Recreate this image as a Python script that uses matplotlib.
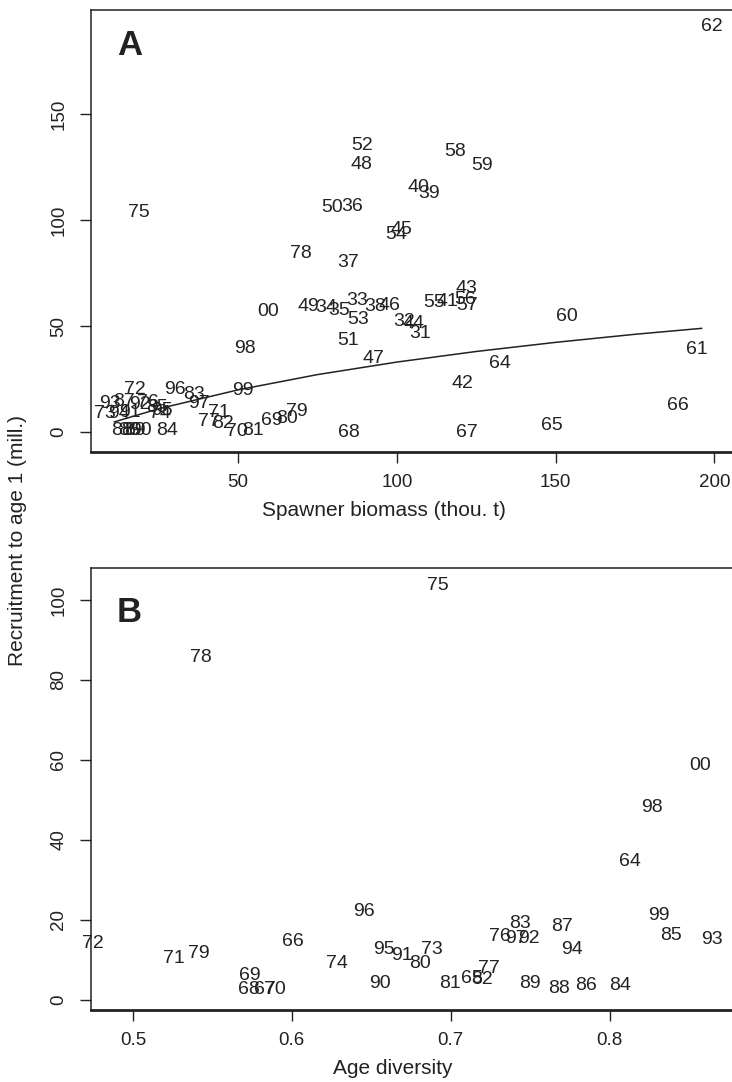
import matplotlib.pyplot as plt

plt.rcParams["font.family"] = ["Liberation Sans", "DejaVu Sans"]

W, H = 732, 1082

# --- Panel A: spawner biomass (thou. t) vs recruitment to age 1 (mill.) ---
a_years = ["62", "52", "48", "58", "59", "40", "39", "75", "50", "36",
           "45", "54", "78", "37", "43", "55", "41", "56", "57", "49",
           "34", "35", "33", "38", "46", "53", "00", "32", "44", "31",
           "51", "60", "98", "47", "64", "42", "61", "66", "65", "67",
           "68", "72", "96", "83", "97", "99", "71", "77", "82", "70",
           "81", "69", "80", "79", "93", "87", "76", "85", "95", "73",
           "94", "91", "92", "74", "88", "86", "89", "90", "84"]
a_biomass = [199.2, 88.9, 88.9, 118.3, 126.7, 106.7, 110.2, 18.8, 79.5, 85.8,
             101.5, 99.9, 69.7, 84.7, 121.8, 111.7, 115.8, 121.4, 122.1, 72.0,
             77.7, 81.8, 87.4, 93.1, 97.8, 87.7, 59.5, 102.2, 105.2, 107.3,
             84.7, 153.6, 52.2, 92.6, 132.5, 120.8, 194.5, 188.5, 148.9, 122.1,
             84.9, 17.6, 30.2, 36.0, 37.6, 51.6, 44.0, 40.7, 45.3, 49.5,
             54.8, 60.7, 65.4, 68.6, 9.6, 14.0, 21.5, 24.5, 25.9, 8.0,
             12.5, 16.0, 19.0, 25.5, 13.5, 15.5, 17.5, 19.5, 27.6]
a_recruit = [191.0, 134.9, 126.3, 132.2, 125.5, 115.4, 112.6, 103.3, 106.0, 106.3,
             95.3, 93.3, 84.3, 79.9, 67.9, 61.0, 61.6, 62.7, 59.9, 59.0,
             58.5, 57.5, 61.8, 59.0, 59.6, 53.3, 56.7, 52.0, 51.3, 46.6,
             43.4, 54.7, 39.2, 34.8, 32.1, 23.1, 38.7, 12.7, 3.3, 0.0,
             0.0, 20.1, 20.1, 17.9, 13.5, 19.5, 9.1, 4.9, 4.1, 0.3,
             0.9, 5.3, 6.6, 9.9, 13.5, 14.2, 13.8, 11.5, 10.0, 8.8,
             8.6, 9.0, 12.8, 8.8, 0.9, 0.9, 0.9, 0.9, 0.6]

# stock-recruit curve
curve_biomass = [11, 25, 50, 75, 100, 125, 150, 175, 196]
curve_recruit = [4.8, 11.0, 19.9, 27.1, 33.0, 38.0, 42.3, 46.1, 48.9]

# --- Panel B: age diversity vs recruitment ---
b_years = ["71", "79", "66", "96", "74", "95", "91", "73", "80", "90",
           "69", "68", "67", "70", "81", "65", "82", "77", "76", "83",
           "97", "92", "87", "94", "89", "88", "86", "84", "99", "85",
           "93", "72", "78", "75", "00", "98", "64"]
b_diversity = [0.5255, 0.5412, 0.6007, 0.6452, 0.6284, 0.6578, 0.6694, 0.6883, 0.6809, 0.6557,
               0.5738, 0.5727, 0.5832, 0.5895, 0.6998, 0.7135, 0.7198, 0.7239, 0.7313, 0.7439,
               0.7408, 0.7492, 0.7702, 0.7765, 0.7502, 0.7681, 0.7849, 0.8069, 0.8311, 0.8384,
               0.8647, 0.4745, 0.543, 0.692, 0.857, 0.827, 0.813]
b_recruit = [10.4, 11.7, 14.6, 22.1, 9.2, 12.5, 11.25, 12.5, 9.2, 4.2,
             6.25, 2.7, 2.5, 2.5, 4.2, 5.4, 5.0, 7.9, 15.8, 19.2,
             15.4, 15.4, 18.3, 12.5, 4.2, 2.9, 3.75, 3.5, 21.25, 16.25,
             15.2, 14.25, 85.5, 103.75, 58.75, 48.0, 34.5]

INK = "#222222"


def box(l, t, r, b):
    return [l / W, 1 - b / H, (r - l) / W, (b - t) / H]


fig = plt.figure(figsize=(W / 100, H / 100), dpi=100)
axA = fig.add_axes(box(91, 10, 735, 452))
axB = fig.add_axes(box(91, 568, 735, 1010))

for ax in (axA, axB):
    for s in ax.spines.values():
        s.set_linewidth(1.1)
        s.set_color(INK)
    ax.spines["bottom"].set_linewidth(2.0)
    ax.tick_params(direction="out", length=8, width=1, labelsize=13.5, color=INK,
                   labelcolor=INK)
    ax.tick_params(axis="y", pad=9)
    ax.tick_params(axis="x", pad=8)

# Panel A
for yr, x, y in zip(a_years, a_biomass, a_recruit):
    axA.text(x, y, yr, ha="center", va="center", fontsize=14, color=INK)
axA.plot(curve_biomass, curve_recruit, color=INK, lw=1.1)
axA.set_xlim(3.65, 206.5)
axA.set_ylim(-9.4, 199)
axA.set_xticks([50, 100, 150, 200])
axA.set_yticks([0, 50, 100, 150])
axA.set_yticklabels(["0", "50", "100", "150"], rotation=90, va="center")
axA.text(0.06, 0.92, "A", transform=axA.transAxes, fontsize=25, fontweight="bold",
         ha="center", va="center", color=INK)
fig.text(384 / W, 1 - 510 / H, "Spawner biomass (thou. t)", ha="center", va="center",
         fontsize=15, color=INK)

# Panel B
for yr, x, y in zip(b_years, b_diversity, b_recruit):
    axB.text(x, y, yr, ha="center", va="center", fontsize=14, color=INK)
axB.set_xlim(0.4736, 0.879)
axB.set_ylim(-2.5, 108)
axB.set_xticks([0.5, 0.6, 0.7, 0.8])
axB.set_xticklabels(["0.5", "0.6", "0.7", "0.8"])
axB.set_yticks([0, 20, 40, 60, 80, 100])
axB.set_yticklabels(["0", "20", "40", "60", "80", "100"], rotation=90, va="center")
axB.text(0.06, 0.9, "B", transform=axB.transAxes, fontsize=25, fontweight="bold",
         ha="center", va="center", color=INK)
fig.text(393 / W, 1 - 1068 / H, "Age diversity", ha="center", va="center",
         fontsize=15, color=INK)

fig.text(18 / W, 1 - 541 / H, "Recruitment to age 1 (mill.)", rotation=90,
         ha="center", va="center", fontsize=15, color=INK)

fig.savefig("out.png", dpi=100)
